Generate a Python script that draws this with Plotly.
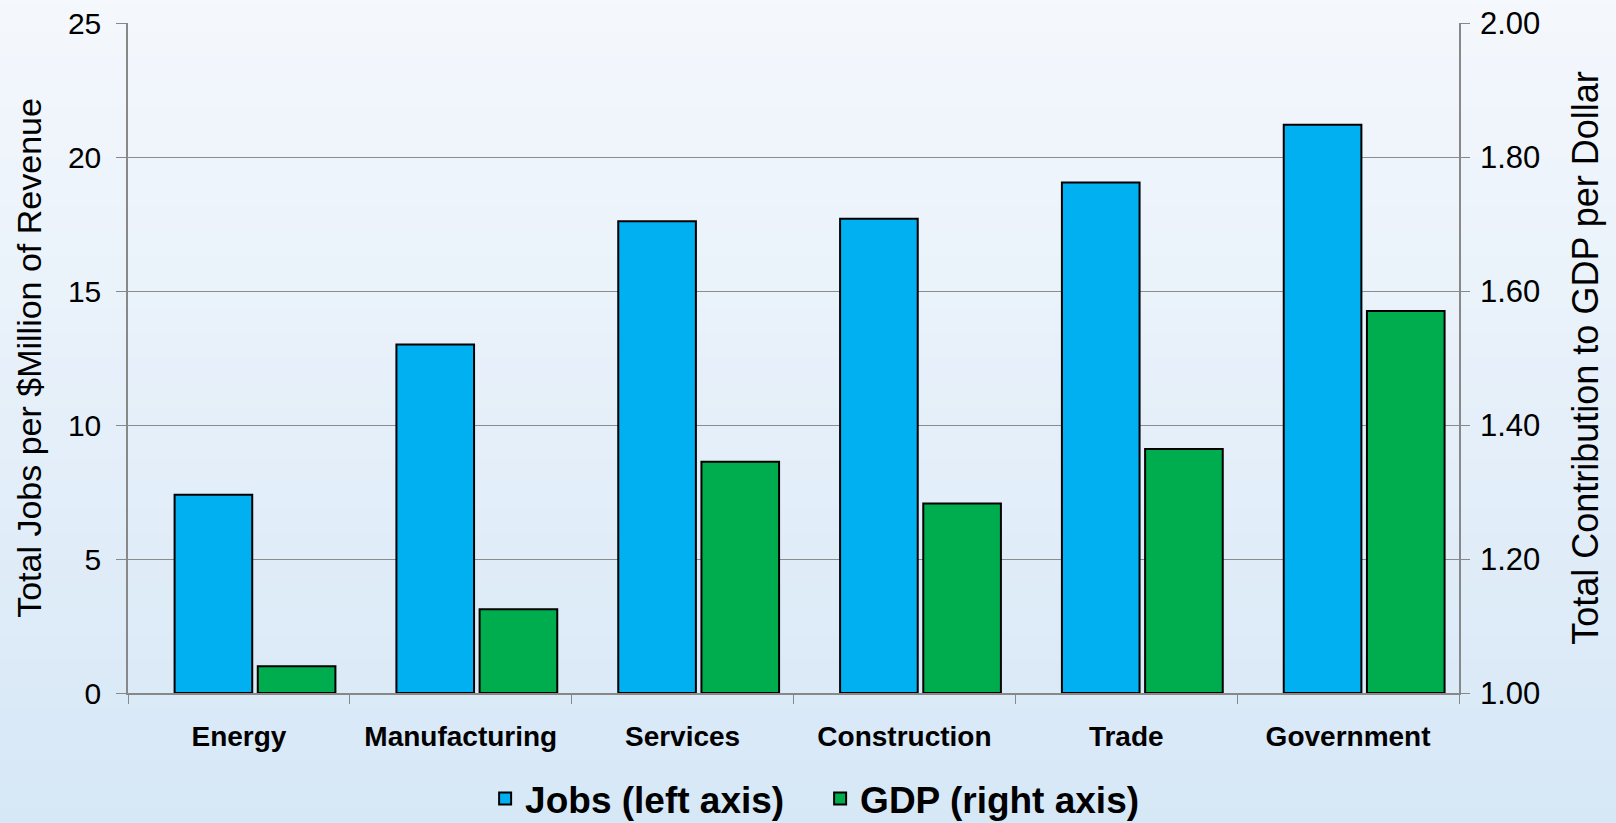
import plotly.graph_objects as go

categories = ["Energy", "Manufacturing", "Services", "Construction", "Trade", "Government"]
jobs = [7.4, 13.0, 17.6, 17.7, 19.05, 21.2]
gdp = [1.04, 1.125, 1.345, 1.283, 1.364, 1.57]
left_ticks = [0, 5, 10, 15, 20, 25]
right_ticks = [1.0, 1.2, 1.4, 1.6, 1.8, 2.0]
right_tick_text = ["1.00", "1.20", "1.40", "1.60", "1.80", "2.00"]
gdp_base = 1.0

fig = go.Figure()
fig.add_trace(go.Bar(
    x=categories, y=jobs, name="<b>Jobs (left axis)</b>",
    marker=dict(color="#00b0f0", line=dict(color="black", width=2)),
    offset=-0.29, width=0.35, yaxis="y",
))
fig.add_trace(go.Bar(
    x=categories, y=[g - gdp_base for g in gdp], base=[gdp_base] * len(gdp),
    name="<b>GDP (right axis)</b>",
    marker=dict(color="#00ad4e", line=dict(color="black", width=2)),
    offset=0.085, width=0.35, yaxis="y2",
))

# gradient background (decorative)
shapes = []
n = 40
top = (246, 249, 253)
bot = (210, 229, 246)
for i in range(n):
    t = i / (n - 1)
    c = tuple(int(top[k] + (bot[k] - top[k]) * t) for k in range(3))
    shapes.append(dict(type="rect", xref="paper", yref="paper",
                       x0=-0.2, x1=1.3, y0=1.1 - (i + 1) * 1.5 / n, y1=1.1 - i * 1.5 / n + 0.001,
                       fillcolor="rgb(%d,%d,%d)" % c, line=dict(width=0), layer="below"))

fig.update_layout(
    width=1616, height=823,
    margin=dict(l=128, r=157, t=23, b=130, autoexpand=False),
    paper_bgcolor="rgb(225,237,249)",
    plot_bgcolor="rgba(0,0,0,0)",
    shapes=shapes,
    barmode="overlay",
    font=dict(family="Liberation Sans, Arial", color="black"),
    xaxis=dict(
        tickson="boundaries", ticks="outside", ticklen=9, tickcolor="#888888",
        showline=True, linecolor="#888888", linewidth=1.5,
        tickvals=categories, ticktext=["<b>%s</b>" % c for c in categories],
        tickfont=dict(size=28),
        ticklabelstandoff=18,
        showgrid=False,
    ),
    yaxis=dict(
        range=[0, 25], tickvals=left_ticks, ticks="outside", ticklen=10, tickcolor="#888888",
        showline=True, linecolor="#888888", linewidth=1.5,
        gridcolor="#8c8c8c", gridwidth=1.2,
        tickfont=dict(size=30),
        ticklabelstandoff=9,
        title=dict(text="Total Jobs per $Million of Revenue", font=dict(size=34), standoff=16),
        zeroline=False,
    ),
    yaxis2=dict(
        range=[1.0, 2.0], tickvals=right_ticks, ticktext=right_tick_text,
        overlaying="y", side="right", ticks="outside", ticklen=9, tickcolor="#888888",
        showline=True, linecolor="#888888", linewidth=1.5, showgrid=False,
        tickfont=dict(size=31),
        ticklabelstandoff=4,
        title=dict(text="Total Contribution to GDP per Dollar", font=dict(size=36), standoff=34),
        zeroline=False,
    ),
    legend=dict(
        orientation="h", x=0.52, xanchor="center", y=-0.158, yanchor="middle",
        font=dict(size=37, family="Liberation Sans, Arial"),
        bgcolor="rgba(0,0,0,0)",
        entrywidth=290, entrywidthmode="pixels",
    ),
    showlegend=True,
)

fig.write_html("out.html", config={"displayModeBar": False},
               post_script="document.body.style.margin='0px';")
